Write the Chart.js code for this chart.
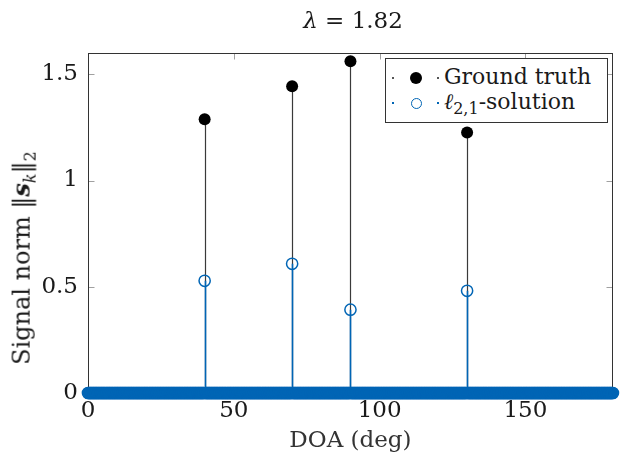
<!DOCTYPE html>
<html>
<head>
<meta charset="utf-8">
<script src="https://cdn.jsdelivr.net/npm/chart.js@4"></script>
<style>
  html, body { margin: 0; padding: 0; background: #fff; }
  #wrap { position: relative; width: 620px; height: 458px; font-family: "DejaVu Serif", serif; color: #1a1a1a; }
  #chart { position: absolute; left: 0; top: 0; }
  .title { position: absolute; left: 253px; top: 7px; width: 200px; text-align: center; font-size: 23px; }
  .ylab { position: absolute; left: 23px; top: 258px; transform: translate(-50%, -50%) rotate(-90deg); white-space: nowrap; font-size: 24px; }
  .ylab sub, .legend sub { font-size: 16px; }
  .legend { position: absolute; left: 385px; top: 58px; width: 223px; height: 65px; box-sizing: border-box;
            border: 1px solid #333; background: #fff; font-size: 22px; }
  .row { position: absolute; left: 0; height: 26px; width: 100%; }
  .tiny { position: absolute; top: 12px; width: 2px; height: 2px; }
  .mark { position: absolute; box-sizing: border-box; border-radius: 50%; }
  .txt { position: absolute; left: 58px; top: -1px; white-space: nowrap; line-height: 26px; }
</style>
</head>
<body>
<div id="wrap">
  <canvas id="chart" width="620" height="458"></canvas>
  <div class="title"><i>λ</i> = 1.82</div>
  <div class="ylab">Signal norm ‖<b><i>s</i></b><sub><i>k</i></sub>‖<sub>2</sub></div>
  <div class="legend">
    <div class="row" style="top:6px">
      <div class="tiny" style="left:6px;background:#555"></div>
      <div class="mark" style="left:24px;top:7px;width:12px;height:12px;background:#000"></div>
      <div class="tiny" style="left:51px;background:#555"></div>
      <div class="txt">Ground truth</div>
    </div>
    <div class="row" style="top:31px">
      <div class="tiny" style="left:6px;background:#0065b5"></div>
      <div class="mark" style="left:25px;top:8px;width:11px;height:11px;border:1.3px solid #0065b5"></div>
      <div class="tiny" style="left:51px;background:#0065b5"></div>
      <div class="txt"><i>ℓ</i><sub>2,1</sub>-solution</div>
    </div>
  </div>
</div>
<script>
// DOA grid and signal norms
const doaStep = 0.25;
const doaMax = 180;
const sourceDoa = [40, 70, 90, 130];
const groundTruth = [1.288, 1.443, 1.561, 1.226];
const l21Solution = [0.528, 0.608, 0.392, 0.481];
const xTicks = [0, 50, 100, 150];
const yTicks = [0, 0.5, 1, 1.5];

const BLUE = '#0065b5';
const FONT = { family: '"DejaVu Serif", serif', size: 23 };
const TEXT = '#1a1a1a';

// solution is evaluated on the whole grid: zero except at the sources
const solutionPoints = [];
for (let i = 0; i * doaStep <= doaMax; i++) {
  const x = i * doaStep;
  const k = sourceDoa.indexOf(x);
  solutionPoints.push({ x, y: k >= 0 ? l21Solution[k] : 0 });
}
const truthPoints = sourceDoa.map((x, i) => ({ x, y: groundTruth[i] }));

// stems from zero up to each marker, drawn right under its dataset
const stemPlugin = {
  id: 'stems',
  beforeDatasetDraw(chart, args) {
    const ds = chart.data.datasets[args.index];
    if (!ds.stemColor) return;
    const ctx = chart.ctx;
    const y0 = chart.scales.y.getPixelForValue(0);
    ctx.save();
    ctx.strokeStyle = ds.stemColor;
    ctx.lineWidth = ds.stemWidth;
    ctx.beginPath();
    args.meta.data.forEach((pt, i) => {
      if (!ds.data[i].y) return;
      const x = Math.round(pt.x) + 0.5;
      ctx.moveTo(x, y0);
      ctx.lineTo(x, pt.y);
    });
    ctx.stroke();
    ctx.restore();
  }
};

// pgfplots-like frame with inward ticks on all sides
const framePlugin = {
  id: 'frame',
  beforeDatasetsDraw(chart) {
    const { ctx, chartArea: a, scales } = chart;
    const L = Math.round(a.left) + 0.5, R = Math.round(a.right) - 0.5;
    const T = Math.round(a.top) + 0.5, B = Math.round(a.bottom) + 0.5;
    ctx.save();
    ctx.lineWidth = 1;
    ctx.strokeStyle = '#a0a0a0';
    ctx.beginPath();
    xTicks.forEach(v => {
      const x = Math.round(scales.x.getPixelForValue(v)) + 0.5;
      ctx.moveTo(x, B); ctx.lineTo(x, B - 6);
      ctx.moveTo(x, T); ctx.lineTo(x, T + 6);
    });
    yTicks.forEach(v => {
      const y = Math.round(scales.y.getPixelForValue(v)) + 0.5;
      ctx.moveTo(L, y); ctx.lineTo(L + 6, y);
      ctx.moveTo(R, y); ctx.lineTo(R - 6, y);
    });
    ctx.stroke();
    ctx.strokeStyle = '#333';
    ctx.strokeRect(L, T, R - L, B - T);
    ctx.restore();
  }
};

new Chart(document.getElementById('chart'), {
  type: 'scatter',
  data: {
    datasets: [
      {
        label: 'Ground truth',
        data: truthPoints,
        order: 2,
        pointRadius: 6,
        pointBackgroundColor: '#000',
        pointBorderColor: '#000',
        pointBorderWidth: 0,
        stemColor: '#3a3a3a',
        stemWidth: 1.2,
      },
      {
        label: 'l21-solution',
        data: solutionPoints,
        order: 1,
        clip: false,
        pointRadius: 5.6,
        pointBackgroundColor: 'rgba(0,0,0,0)',
        pointBorderColor: BLUE,
        pointBorderWidth: 1.5,
        stemColor: BLUE,
        stemWidth: 1.6,
      },
    ],
  },
  options: {
    responsive: false,
    animation: false,
    events: [],
    layout: { padding: { top: 53, right: 2, left: 0, bottom: 0 } },
    plugins: { legend: { display: false }, tooltip: { enabled: false } },
    scales: {
      x: {
        type: 'linear',
        min: 0,
        max: doaMax,
        afterBuildTicks: s => { s.ticks = xTicks.map(v => ({ value: v })); },
        afterFit: s => { s.height = 65; },
        grid: { display: false, drawTicks: false },
        border: { display: false },
        ticks: { font: FONT, color: TEXT, padding: 4, maxRotation: 0 },
        title: { display: true, text: 'DOA (deg)', font: FONT, color: '#333', padding: { top: 0, bottom: 3 } },
      },
      y: {
        min: 0,
        max: 1.6,
        afterBuildTicks: s => { s.ticks = yTicks.map(v => ({ value: v })); },
        afterFit: s => { s.width = 88; },
        grid: { display: false, drawTicks: false },
        border: { display: false },
        ticks: { font: FONT, color: TEXT, padding: 10, callback: v => String(v) },
      },
    },
  },
  plugins: [framePlugin, stemPlugin],
});
</script>
</body>
</html>
